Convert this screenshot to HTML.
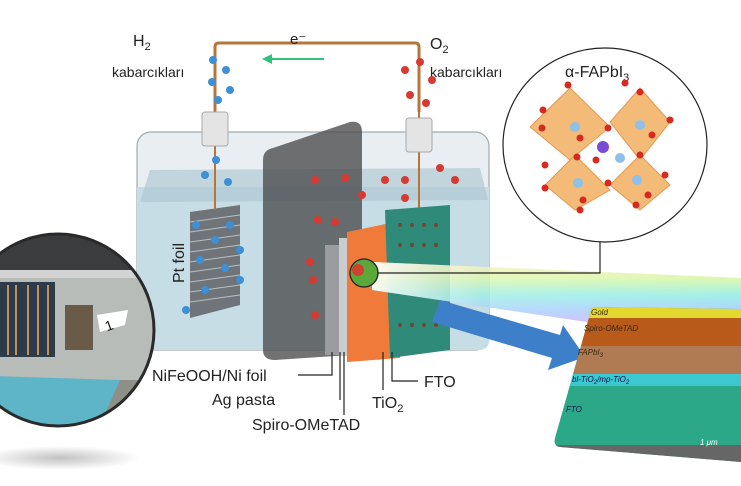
<!DOCTYPE html>
<html><head><meta charset="utf-8"><style>
body{margin:0;background:#fff;}
svg{display:block;font-family:"Liberation Sans",sans-serif;}
</style></head><body>
<svg width="741" height="486" viewBox="0 0 741 486" xmlns="http://www.w3.org/2000/svg">
<defs>
<linearGradient id="rb" x1="0" y1="0" x2="1" y2="0">
<stop offset="0" stop-color="#ffffff" stop-opacity="0.9"/>
<stop offset="0.3" stop-color="#ffffff" stop-opacity="0.4"/>
<stop offset="1" stop-color="#ffffff" stop-opacity="0.3"/>
</linearGradient>
<linearGradient id="rbv" x1="0" y1="0" x2="0" y2="1">
<stop offset="0" stop-color="#ffe08a"/>
<stop offset="0.2" stop-color="#b8f060"/>
<stop offset="0.4" stop-color="#40e0d0"/>
<stop offset="0.6" stop-color="#60a0ff"/>
<stop offset="0.8" stop-color="#d060e0"/>
<stop offset="1" stop-color="#ff80a0"/>
</linearGradient>
<radialGradient id="sh" cx="0.5" cy="0.5" r="0.5"><stop offset="0" stop-color="#999" stop-opacity="0.6"/><stop offset="1" stop-color="#999" stop-opacity="0"/></radialGradient>
<clipPath id="lc"><circle cx="58" cy="330" r="96"/></clipPath>
<clipPath id="pc"><path d="M592 307 L741 309 L741 462 L560 447 Q553 446 555 438 Z"/></clipPath>
</defs>

<path d="M215 112 V47 Q215 43 219 43 H415 Q419 43 419 47 V112" fill="none" stroke="#b8753a" stroke-width="3"/>
<text x="290" y="44" font-size="15" fill="#222">e⁻</text>
<line x1="324" y1="59" x2="268" y2="59" stroke="#2ec27a" stroke-width="2"/>
<path d="M262 59 L272 54 L272 64 Z" fill="#2ec27a"/>
<text x="133" y="46" font-size="16" fill="#222">H<tspan font-size="11" dy="4">2</tspan></text>
<text x="112" y="77" font-size="14" fill="#222">kabarcıkları</text>
<text x="430" y="49" font-size="16" fill="#222">O<tspan font-size="11" dy="4">2</tspan></text>
<text x="430" y="77" font-size="14" fill="#222">kabarcıkları</text>

<rect x="137" y="132" width="352" height="218" rx="14" fill="#e8eef2" stroke="#a0aab2" stroke-width="1.2"/>
<path d="M137 187 L489 187 L489 340 Q489 350 479 350 L147 350 Q137 350 137 340 Z" fill="#c7dde6"/>
<path d="M150 170 L480 168 L488 200 L140 202 Z" fill="#a9c4cf" opacity="0.6"/>
<path d="M263 160 Q263 150 273 148 L350 122 Q362 120 362 132 L362 330 L350 355 L275 360 Q263 360 263 350 Z" fill="#4a4a4c" opacity="0.78"/>
<g>
<path d="M190 212 L240 205 L240 305 L190 318 Z" fill="#6f7478"/>
<g stroke="#b8bec2" stroke-width="1">
<line x1="190" y1="222" x2="240" y2="215"/><line x1="190" y1="232" x2="240" y2="225"/><line x1="190" y1="242" x2="240" y2="235"/><line x1="190" y1="252" x2="240" y2="245"/><line x1="190" y1="262" x2="240" y2="255"/><line x1="190" y1="272" x2="240" y2="265"/><line x1="190" y1="282" x2="240" y2="275"/><line x1="190" y1="292" x2="240" y2="285"/><line x1="190" y1="302" x2="240" y2="295"/>
</g>
</g>
<line x1="215" y1="112" x2="215" y2="210" stroke="#b8753a" stroke-width="2"/>
<line x1="419" y1="112" x2="419" y2="210" stroke="#b8753a" stroke-width="2"/>
<rect x="202" y="112" width="26" height="34" rx="3" fill="#e4e4e4" stroke="#aaa"/>
<rect x="406" y="118" width="26" height="34" rx="3" fill="#e4e4e4" stroke="#aaa"/>
<rect x="325" y="245" width="14" height="110" fill="#9a9ca0"/>
<rect x="339" y="238" width="8" height="118" fill="#c9cdd0"/>
<path d="M347 232 L395 222 L400 358 L347 362 Z" fill="#f07a3a"/>
<path d="M385 210 L450 205 L450 350 L390 358 Z" fill="#2f8a7a"/>
<g fill="#6b4a30">
<circle cx="400" cy="225" r="2"/><circle cx="412" cy="225" r="2"/><circle cx="424" cy="225" r="2"/><circle cx="436" cy="225" r="2"/>
<circle cx="400" cy="245" r="2"/><circle cx="412" cy="245" r="2"/><circle cx="424" cy="245" r="2"/><circle cx="436" cy="245" r="2"/>
<circle cx="400" cy="325" r="2"/><circle cx="412" cy="325" r="2"/><circle cx="424" cy="325" r="2"/><circle cx="436" cy="325" r="2"/>
</g>
<g fill="#3d8fd6">
<circle cx="213" cy="60" r="4"/><circle cx="226" cy="70" r="4"/><circle cx="212" cy="82" r="4"/><circle cx="230" cy="90" r="4"/><circle cx="218" cy="100" r="4"/>
<circle cx="216" cy="160" r="4"/><circle cx="205" cy="175" r="4"/><circle cx="228" cy="182" r="4"/>
<circle cx="196" cy="225" r="4"/><circle cx="215" cy="240" r="4"/><circle cx="230" cy="225" r="4"/><circle cx="200" cy="260" r="4"/><circle cx="225" cy="268" r="4"/><circle cx="240" cy="280" r="4"/><circle cx="205" cy="290" r="4"/><circle cx="240" cy="250" r="4"/><circle cx="186" cy="310" r="4"/>
</g>
<g fill="#d63a30">
<circle cx="405" cy="70" r="4"/><circle cx="420" cy="62" r="4"/><circle cx="432" cy="80" r="4"/><circle cx="410" cy="95" r="4"/><circle cx="426" cy="103" r="4"/>
<circle cx="345" cy="178" r="4"/><circle cx="385" cy="180" r="4"/><circle cx="405" cy="180" r="4"/><circle cx="440" cy="168" r="4"/><circle cx="455" cy="180" r="4"/><circle cx="315" cy="180" r="4"/><circle cx="318" cy="220" r="4"/><circle cx="335" cy="222" r="4"/><circle cx="310" cy="262" r="4"/><circle cx="313" cy="280" r="4"/><circle cx="315" cy="315" r="4"/><circle cx="362" cy="195" r="4"/><circle cx="405" cy="198" r="4"/>
</g>
<path d="M372 262 L741 278 L741 345 L372 290 Z" fill="url(#rbv)" opacity="0.7"/>
<path d="M372 262 L741 278 L741 345 L372 290 Z" fill="url(#rb)"/>
<polyline points="378,273 600,273 600,242" fill="none" stroke="#222" stroke-width="1.2"/>
<circle cx="364" cy="273" r="14" fill="#5aa83a" stroke="#222" stroke-width="1.3"/>
<circle cx="358" cy="270" r="6" fill="#d04030"/>
<path d="M440 300 L560 335 L563 325 L585 357 L548 370 L552 358 L432 322 Z" fill="#3d7fc8"/>

<ellipse cx="605" cy="145" rx="102" ry="97" fill="#fff" stroke="#222" stroke-width="1.2"/>
<text x="565" y="77" font-size="16" fill="#222">α-FAPbI<tspan font-size="11" dy="4">3</tspan></text>
<g fill="#f3b36a" stroke="#e09040" stroke-width="1" opacity="0.9">
<path d="M570 88 L610 127 L570 160 L530 127 Z"/>
<path d="M640 88 L670 122 L640 160 L610 122 Z"/>
<path d="M575 155 L610 190 L575 210 L545 185 Z"/>
<path d="M640 155 L670 185 L640 210 L610 185 Z"/>
</g>
<g fill="#d62a20">
<circle cx="568" cy="85" r="3.5"/><circle cx="625" cy="83" r="3.5"/><circle cx="640" cy="92" r="3.5"/><circle cx="543" cy="110" r="3.5"/><circle cx="542" cy="128" r="3.5"/><circle cx="580" cy="138" r="3.5"/><circle cx="608" cy="128" r="3.5"/><circle cx="670" cy="120" r="3.5"/><circle cx="652" cy="135" r="3.5"/><circle cx="577" cy="157" r="3.5"/><circle cx="545" cy="165" r="3.5"/><circle cx="596" cy="160" r="3.5"/><circle cx="640" cy="155" r="3.5"/><circle cx="608" cy="183" r="3.5"/><circle cx="545" cy="188" r="3.5"/><circle cx="583" cy="200" r="3.5"/><circle cx="580" cy="210" r="3.5"/><circle cx="665" cy="175" r="3.5"/><circle cx="648" cy="195" r="3.5"/><circle cx="636" cy="205" r="3.5"/>
</g>
<g fill="#8fc0ea"><circle cx="575" cy="127" r="5"/><circle cx="640" cy="125" r="5"/><circle cx="620" cy="158" r="5"/><circle cx="578" cy="183" r="5"/><circle cx="637" cy="180" r="5"/></g>
<circle cx="603" cy="147" r="6" fill="#7a4ad6"/>

<ellipse cx="60" cy="458" rx="80" ry="12" fill="url(#sh)"/>
<g clip-path="url(#lc)">
<rect x="-40" y="230" width="200" height="200" fill="#8d8f88"/>
<rect x="-40" y="230" width="200" height="40" fill="#3a3c3e"/>
<rect x="-40" y="270" width="200" height="110" fill="#b8bcb8"/>
<rect x="0" y="282" width="55" height="75" fill="#2d3a48"/>
<g stroke="#c49060" stroke-width="2"><line x1="8" y1="285" x2="8" y2="355"/><line x1="16" y1="285" x2="16" y2="355"/><line x1="28" y1="285" x2="28" y2="355"/><line x1="38" y1="285" x2="38" y2="355"/><line x1="48" y1="285" x2="48" y2="355"/></g>
<rect x="65" y="305" width="28" height="45" fill="#6a5a48"/>
<path d="M-40 375 L120 380 L100 425 L-40 425 Z" fill="#5fb5c8"/>
<path d="M97 315 L128 310 L125 325 L100 332 Z" fill="#fff"/>
<text x="105" y="330" font-size="14" fill="#111" transform="rotate(-20 110 325)">1</text>
<rect x="-40" y="270" width="200" height="8" fill="#ddd" opacity="0.7"/>
</g>
<circle cx="58" cy="330" r="96" fill="none" stroke="#2a2a2a" stroke-width="3"/>

<g clip-path="url(#pc)">
<rect x="540" y="300" width="210" height="170" fill="#2aa888"/>
<rect x="540" y="300" width="210" height="18" fill="#e3d830"/>
<rect x="540" y="318" width="210" height="28" fill="#b85a1a"/>
<rect x="540" y="346" width="210" height="30" fill="#b07a52"/>
<rect x="540" y="374" width="210" height="12" fill="#3cc8d0"/>
<rect x="540" y="445" width="210" height="25" fill="#666"/>
</g>
<g font-size="8" font-style="italic" fill="#3a2a10">
<text x="591" y="315">Gold</text>
<text x="584" y="331">Spiro-OMeTAD</text>
<text x="578" y="355">FAPbI<tspan font-size="6" dy="2">3</tspan></text>
<text x="572" y="382" fill="#114">bl-TiO<tspan font-size="6" dy="2">2</tspan><tspan dy="-2">/mp-TiO</tspan><tspan font-size="6" dy="2">2</tspan></text>
<text x="566" y="412" fill="#114">FTO</text>
<text x="700" y="445" fill="#fff">1 μm</text>
</g>

<text x="0" y="0" font-size="16" fill="#222" transform="translate(184 283) rotate(-90)">Pt foil</text>
<g font-size="16" fill="#222">
<text x="152" y="381">NiFeOOH/Ni foil</text>
<text x="212" y="405">Ag pasta</text>
<text x="252" y="430">Spiro-OMeTAD</text>
<text x="372" y="408">TiO<tspan font-size="11" dy="4">2</tspan></text>
<text x="424" y="387">FTO</text>
</g>
<g fill="none" stroke="#222" stroke-width="1.2">
<polyline points="298,375 332,375 332,352"/>
<line x1="340" y1="352" x2="340" y2="400"/>
<line x1="344" y1="352" x2="344" y2="415"/>
<line x1="383" y1="352" x2="383" y2="390"/>
<polyline points="392,352 392,381 418,381"/>
</g>
</svg>
</body></html>
